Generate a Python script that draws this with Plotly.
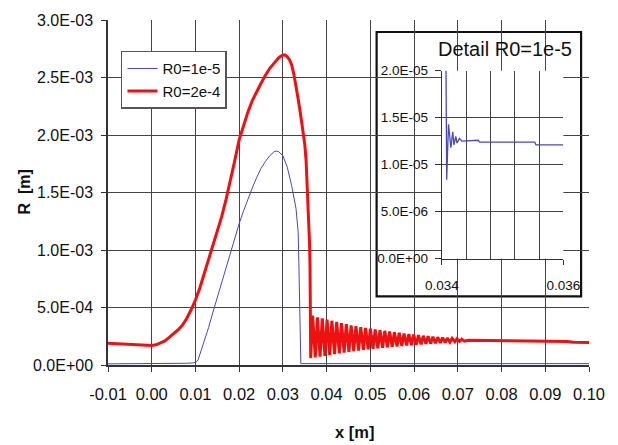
import plotly.graph_objects as go

# ---------------- data ----------------
# R0 = 1e-5 (blue)
blue_x = [-0.010, 0.000, 0.005, 0.008, 0.0095, 0.0100, 0.0103, 0.0106, 0.011, 0.012,
          0.013, 0.014, 0.015, 0.016, 0.017, 0.018, 0.019, 0.020, 0.021, 0.022,
          0.023, 0.024, 0.025, 0.026, 0.027, 0.028, 0.0285, 0.029, 0.030, 0.031,
          0.032, 0.033, 0.0335, 0.0338, 0.0340, 0.0341, 0.100]
blue_y = [1.0e-5, 1.0e-5, 1.2e-5, 1.5e-5, 1.8e-5, 2.2e-5, 3.0e-5, 4.5e-5, 9.0e-5, 2.0e-4,
          3.25e-4, 4.6e-4, 5.9e-4, 7.2e-4, 8.5e-4, 9.8e-4, 1.11e-3, 1.23e-3, 1.34e-3, 1.45e-3,
          1.54e-3, 1.63e-3, 1.71e-3, 1.77e-3, 1.82e-3, 1.855e-3, 1.86e-3, 1.855e-3, 1.82e-3, 1.72e-3,
          1.56e-3, 1.36e-3, 1.15e-3, 0.60e-3, 0.05e-3, 1.2e-5, 1.2e-5]

# R0 = 2e-4 (red): growth / collapse part
red_rise_x = [-0.010, -0.008, -0.006, -0.004, -0.002, 0.000, 0.001, 0.002, 0.003, 0.004,
              0.005, 0.006, 0.007, 0.008, 0.009, 0.010, 0.011, 0.012, 0.013, 0.014,
              0.015, 0.016, 0.017, 0.018, 0.019, 0.020, 0.021, 0.022, 0.023, 0.024,
              0.025, 0.026, 0.027, 0.028, 0.0285, 0.029, 0.0295, 0.030, 0.0305, 0.031,
              0.0315, 0.032, 0.0325, 0.033, 0.0335, 0.034, 0.0345, 0.035, 0.0353, 0.0356,
              0.0359, 0.0361, 0.0362, 0.0363, 0.03635]
red_rise_y = [1.90e-4, 1.85e-4, 1.80e-4, 1.78e-4, 1.75e-4, 1.70e-4, 1.76e-4, 1.90e-4, 2.10e-4, 2.40e-4,
              2.72e-4, 3.05e-4, 3.45e-4, 4.05e-4, 4.80e-4, 5.65e-4, 6.70e-4, 7.90e-4, 9.10e-4, 1.03e-3,
              1.16e-3, 1.29e-3, 1.44e-3, 1.60e-3, 1.78e-3, 1.96e-3, 2.09e-3, 2.20e-3, 2.30e-3, 2.38e-3,
              2.45e-3, 2.52e-3, 2.58e-3, 2.625e-3, 2.65e-3, 2.67e-3, 2.685e-3, 2.695e-3, 2.695e-3, 2.68e-3,
              2.655e-3, 2.61e-3, 2.53e-3, 2.43e-3, 2.31e-3, 2.19e-3, 2.07e-3, 1.92e-3, 1.78e-3, 1.52e-3,
              1.25e-3, 1.05e-3, 0.85e-3, 0.45e-3, 0.60e-4]

# red rebound oscillations: peaks and troughs
red_peak_x = [0.0368, 0.0379, 0.0390, 0.0401, 0.0412, 0.0423, 0.0434, 0.0445, 0.0456, 0.0467,
              0.0478, 0.0489, 0.0500, 0.0511, 0.0522, 0.0533, 0.0544, 0.0555, 0.0566, 0.0577,
              0.0588, 0.0599, 0.0610, 0.0621, 0.0632, 0.0643, 0.0654, 0.0665, 0.0676, 0.0687,
              0.0698, 0.0709]
red_peak_y = [4.30e-4, 4.15e-4, 4.05e-4, 3.95e-4, 3.85e-4, 3.75e-4, 3.65e-4, 3.55e-4, 3.45e-4, 3.38e-4,
              3.30e-4, 3.23e-4, 3.16e-4, 3.10e-4, 3.03e-4, 2.97e-4, 2.91e-4, 2.85e-4, 2.80e-4, 2.74e-4,
              2.69e-4, 2.64e-4, 2.59e-4, 2.54e-4, 2.50e-4, 2.46e-4, 2.42e-4, 2.38e-4, 2.34e-4, 2.31e-4,
              2.28e-4, 2.25e-4]
red_trough_x = [0.0374, 0.0385, 0.0396, 0.0407, 0.0418, 0.0429, 0.0440, 0.0451, 0.0462, 0.0473,
                0.0484, 0.0495, 0.0506, 0.0517, 0.0528, 0.0539, 0.0550, 0.0561, 0.0572, 0.0583,
                0.0594, 0.0605, 0.0616, 0.0627, 0.0638, 0.0649, 0.0660, 0.0671, 0.0682, 0.0693,
                0.0704, 0.0715]
red_trough_y = [0.65e-4, 0.72e-4, 0.80e-4, 0.88e-4, 0.95e-4, 1.02e-4, 1.08e-4, 1.14e-4, 1.20e-4, 1.26e-4,
                1.31e-4, 1.36e-4, 1.41e-4, 1.46e-4, 1.50e-4, 1.54e-4, 1.58e-4, 1.62e-4, 1.66e-4, 1.70e-4,
                1.73e-4, 1.77e-4, 1.80e-4, 1.84e-4, 1.87e-4, 1.90e-4, 1.93e-4, 1.96e-4, 1.99e-4, 2.02e-4,
                2.05e-4, 2.08e-4]

red_tail_x = [0.0725, 0.075, 0.080, 0.085, 0.090, 0.095, 0.0965, 0.100]
red_tail_y = [2.15e-4, 2.14e-4, 2.12e-4, 2.10e-4, 2.08e-4, 2.05e-4, 1.98e-4, 1.95e-4]

# detail inset, R0 = 1e-5
detail_x = [0.03406, 0.03408, 0.03411, 0.03415, 0.03418, 0.03420, 0.03423, 0.03425,
            0.03429, 0.03433, 0.03460, 0.03462, 0.03553, 0.03555, 0.03600]
detail_y = [3.0e-5, 8.4e-6, 1.43e-5, 1.18e-5, 1.35e-5, 1.21e-5, 1.30e-5, 1.23e-5,
            1.28e-5, 1.25e-5, 1.26e-5, 1.24e-5, 1.24e-5, 1.21e-5, 1.21e-5]

# tick labels
x_ticks = [-0.01, 0.00, 0.01, 0.02, 0.03, 0.04, 0.05, 0.06, 0.07, 0.08, 0.09, 0.10]
x_labels = ["-0.01", "0.00", "0.01", "0.02", "0.03", "0.04", "0.05", "0.06", "0.07", "0.08", "0.09", "0.10"]
y_ticks = [0, 5e-4, 1e-3, 1.5e-3, 2e-3, 2.5e-3, 3e-3]
y_labels = ["0.0E+00", "5.0E-04", "1.0E-03", "1.5E-03", "2.0E-03", "2.5E-03", "3.0E-03"]
ins_x_ticks = [0.034, 0.036]
ins_x_labels = ["0.034", "0.036"]
ins_y_ticks = [0, 5e-6, 1e-5, 1.5e-5, 2e-5]
ins_y_labels = ["0.0E+00", "5.0E-06", "1.0E-05", "1.5E-05", "2.0E-05"]

# build red series
red_x = list(red_rise_x)
red_y = list(red_rise_y)
for px, py, tx, ty in zip(red_peak_x, red_peak_y, red_trough_x, red_trough_y):
    red_x += [px, tx]
    red_y += [py, ty]
red_x += red_tail_x
red_y += red_tail_y

FONT = "Liberation Sans, Arial, sans-serif"
GRID = "#444444"
TXT = "#111111"
BLUE = "#4848b8"
RED = "#ee1111"

fig = go.Figure()
fig.add_trace(go.Scatter(x=blue_x, y=blue_y, mode="lines", name="R0=1e-5",
                         line=dict(color=BLUE, width=1)))
fig.add_trace(go.Scatter(x=red_x, y=red_y, mode="lines", name="R0=2e-4",
                         line=dict(color=RED, width=3)))
fig.add_trace(go.Scatter(x=detail_x, y=detail_y, mode="lines", showlegend=False,
                         line=dict(color=BLUE, width=1.3), xaxis="x2", yaxis="y2"))

fig.update_layout(
    width=618, height=445,
    margin=dict(l=108, r=23, t=18, b=80),
    paper_bgcolor="white", plot_bgcolor="white",
    font=dict(family=FONT, size=15, color=TXT),
    showlegend=True,
    legend=dict(x=0.027, y=0.911, xanchor="left", yanchor="top",
                bgcolor="white", bordercolor="#555555", borderwidth=1.5,
                font=dict(size=15, color=TXT)),
    xaxis=dict(range=[-0.01, 0.10], tickvals=x_ticks, ticktext=x_labels,
               tickfont=dict(size=16.5),
               showgrid=True, gridcolor=GRID, gridwidth=1.3,
               showline=True, linecolor="#333333", linewidth=1.5,
               ticks="outside", ticklen=5, tickcolor="#333333",
               ticklabelstandoff=8, zeroline=False),
    yaxis=dict(range=[0, 3e-3], tickvals=y_ticks, ticktext=y_labels,
               tickfont=dict(size=16),
               showgrid=True, gridcolor=GRID, gridwidth=1.3,
               showline=True, linecolor="#333333", linewidth=1.5,
               ticks="outside", ticklen=5, tickcolor="#333333",
               ticklabelstandoff=5, zeroline=False),
    xaxis2=dict(domain=[0.694, 0.9466], anchor="y2", range=[0.034, 0.036],
                tickvals=ins_x_ticks, ticktext=ins_x_labels,
                tickfont=dict(size=13.5),
                showgrid=True, gridcolor=GRID, gridwidth=1.2,
                minor=dict(tick0=0.034, dtick=0.0004, showgrid=True,
                           gridcolor=GRID, gridwidth=1.2, ticks=""),
                showline=True, linecolor="#333333", linewidth=1.2,
                ticks="outside", ticklen=5, tickcolor="#333333",
                ticklabelstandoff=9, zeroline=False),
    yaxis2=dict(domain=[0.3084, 0.853], anchor="x2", range=[0, 2e-5],
                tickvals=ins_y_ticks, ticktext=ins_y_labels,
                tickfont=dict(size=13.5),
                showgrid=True, gridcolor=GRID, gridwidth=1.2,
                showline=True, linecolor="#333333", linewidth=1.2,
                ticks="outside", ticklen=6, tickcolor="#333333",
                ticklabelstandoff=4, zeroline=False),
    shapes=[dict(type="rect", xref="x2 domain", yref="y2 domain",
                 x0=-0.5366, x1=1.1463, y0=-0.201, y1=1.206,
                 fillcolor="white", line=dict(color="#111111", width=2.2),
                 layer="below")],
    annotations=[
        dict(text="Detail R0=1e-5", xref="paper", yref="paper", x=0.8255, y=0.9164,
             xanchor="center", yanchor="middle", showarrow=False,
             font=dict(size=20, color=TXT)),
        dict(text="<b>x [m]</b>", xref="paper", yref="paper", x=0.513, y=-0.193,
             xanchor="center", yanchor="middle", showarrow=False,
             font=dict(size=16.5, color=TXT)),
        dict(text="<b>R  [m]</b>", xref="paper", yref="paper", x=-0.1745, y=0.5,
             xanchor="center", yanchor="middle", showarrow=False, textangle=-90,
             font=dict(size=16, color=TXT)),
    ],
)

fig.write_html("out.html", config={"displayModeBar": False},
               post_script="document.body.style.margin='0';")
